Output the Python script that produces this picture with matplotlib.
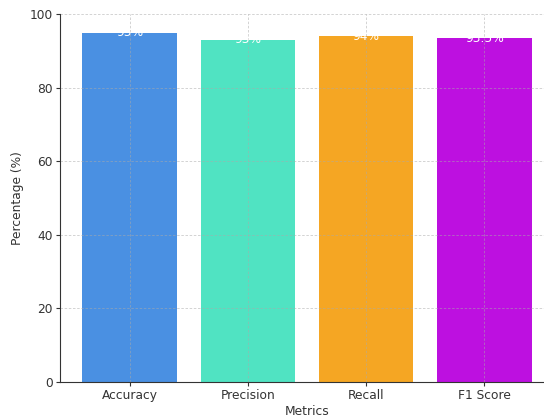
import matplotlib.pyplot as plt

# model evaluation scores
metrics = ['Accuracy', 'Precision', 'Recall', 'F1 Score']
scores = [95, 93, 94, 93.5]
labels = ['95%', '93%', '94%', '93.5%']
colors = ['#4A90E2', '#50E3C2', '#F5A623', '#BD10E0']

fig = plt.figure(figsize=(5.44, 4.19), dpi=100)
ax = fig.add_axes([0.1103, 0.0883, 0.908, 0.878])

bars = ax.bar(metrics, scores, color=colors, width=0.8)
for bar, lab in zip(bars, labels):
    ax.text(bar.get_x() + bar.get_width() / 2, bar.get_height(), lab,
            ha='center', va='center', color='white', fontsize=8.8)

ax.set_ylim(0, 100)
ax.set_xlabel('Metrics', fontsize=8.8, color='#333333', labelpad=2)
ax.set_ylabel('Percentage (%)', fontsize=8.8, color='#333333', labelpad=4)
ax.tick_params(labelsize=8.8, colors='#333333', length=3, pad=2)
ax.spines['top'].set_visible(False)
ax.spines['right'].set_visible(False)
ax.spines['left'].set_color('#333333')
ax.spines['bottom'].set_color('#333333')
ax.grid(True, linestyle=(0, (3, 2)), color='#aaaaaa', alpha=0.6, linewidth=0.6)

fig.savefig('out.png', dpi=100)
